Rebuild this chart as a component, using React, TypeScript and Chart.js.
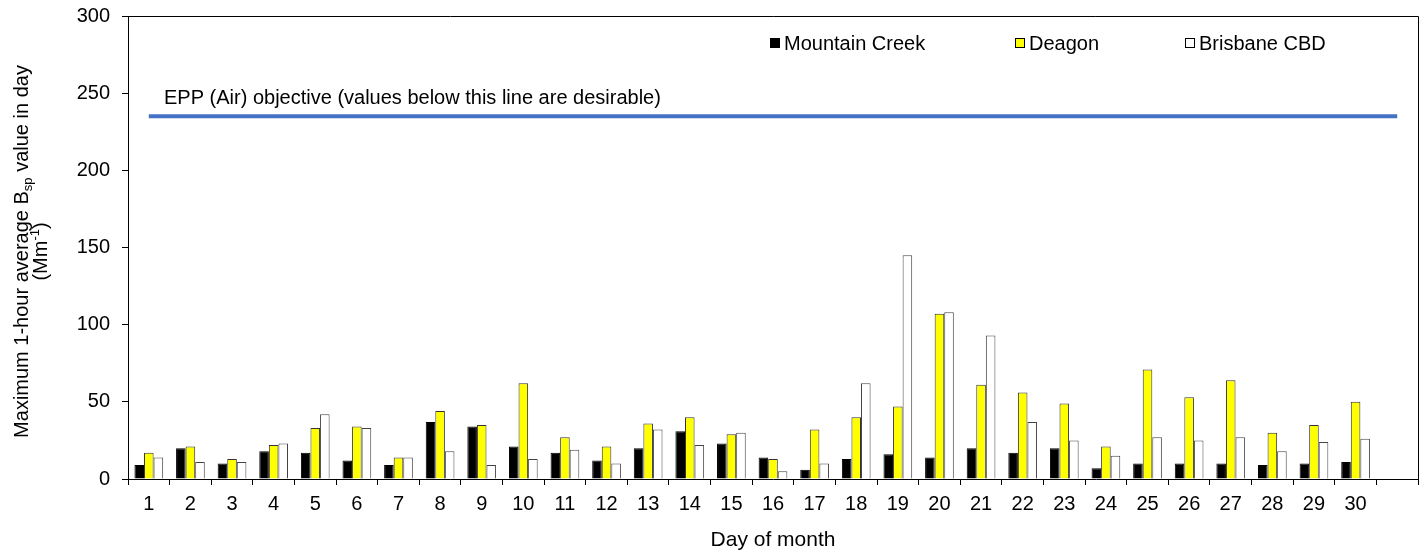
import React, { useEffect, useRef } from "react";
import { Chart, registerables } from "chart.js";

Chart.register(...registerables);

const days: string[] = [
  "1","2","3","4","5","6","7","8","9","10","11","12","13","14","15",
  "16","17","18","19","20","21","22","23","24","25","26","27","28","29","30","",
];

const mountainCreek: (number | null)[] = [
  9, 20, 10, 18, 17, 12, 9, 37, 34, 21, 17, 12, 20, 31, 23,
  14, 6, 13, 16, 14, 20, 17, 20, 7, 10, 10, 10, 9, 10, 11, null,
];

const deagon: (number | null)[] = [
  17, 21, 13, 22, 33, 34, 14, 44, 35, 62, 27, 21, 36, 40, 29,
  13, 32, 40, 47, 107, 61, 56, 49, 21, 71, 53, 64, 30, 35, 50, null,
];

const brisbaneCBD: (number | null)[] = [
  14, 11, 11, 23, 42, 33, 14, 18, 9, 13, 19, 10, 32, 22, 30,
  5, 10, 62, 145, 108, 93, 37, 25, 15, 27, 25, 27, 18, 24, 26, null,
];

const eppObjective = 235;
const eppLabel = "EPP (Air) objective (values below this line are desirable)";

const yTicks = [0, 50, 100, 150, 200, 250, 300];

const FONT = "'Liberation Sans', Arial, sans-serif";

const overlayPlugin = {
  id: "overlay",
  afterDraw(chart: any) {
    const { ctx, chartArea } = chart;
    const ys = chart.scales.y;
    ctx.save();
    // box top & right
    ctx.strokeStyle = "#000";
    ctx.lineWidth = 1;
    ctx.beginPath();
    ctx.moveTo(chartArea.left, chartArea.top + 0.5);
    ctx.lineTo(chartArea.right + 0.5, chartArea.top + 0.5);
    ctx.lineTo(chartArea.right + 0.5, chartArea.bottom);
    ctx.stroke();

    // EPP label
    ctx.fillStyle = "#000";
    ctx.font = `20px ${FONT}`;
    ctx.textBaseline = "alphabetic";
    ctx.textAlign = "left";
    ctx.fillText(eppLabel, 164, ys.getPixelForValue(eppObjective) - 12);

    // legend
    const items = [
      { label: "Mountain Creek", fill: "#000000", x: 770 },
      { label: "Deagon", fill: "#FFFF00", x: 1015 },
      { label: "Brisbane CBD", fill: "#FFFFFF", x: 1185 },
    ];
    const ly = 43;
    items.forEach((it) => {
      ctx.fillStyle = it.fill;
      ctx.fillRect(it.x, ly - 5, 10, 10);
      ctx.strokeStyle = "#000";
      ctx.lineWidth = 1;
      ctx.strokeRect(it.x + 0.5, ly - 4.5, 9, 9);
      ctx.fillStyle = "#000";
      ctx.textBaseline = "middle";
      ctx.fillText(it.label, it.x + 14, ly + 1);
    });

    // y axis title (rotated, two lines)
    const cy = (chartArea.top + chartArea.bottom) / 2 + 4;
    const drawRich = (parts: { t: string; size: number; dy: number }[], cx: number) => {
      let total = 0;
      parts.forEach((p) => {
        ctx.font = `${p.size}px ${FONT}`;
        total += ctx.measureText(p.t).width;
      });
      ctx.save();
      ctx.translate(cx, cy);
      ctx.rotate(-Math.PI / 2);
      ctx.textBaseline = "middle";
      ctx.textAlign = "left";
      ctx.fillStyle = "#000";
      let x = -total / 2;
      parts.forEach((p) => {
        ctx.font = `${p.size}px ${FONT}`;
        ctx.fillText(p.t, x, p.dy);
        x += ctx.measureText(p.t).width;
      });
      ctx.restore();
    };
    drawRich(
      [
        { t: "Maximum 1-hour average B", size: 20, dy: 0 },
        { t: "sp", size: 13, dy: 6 },
        { t: " value in day", size: 20, dy: 0 },
      ],
      22
    );
    drawRich(
      [
        { t: "(Mm", size: 20, dy: 0 },
        { t: "-1", size: 13, dy: -6 },
        { t: ")", size: 20, dy: 0 },
      ],
      41
    );
    ctx.restore();
  },
};

export default function App() {
  const ref = useRef<HTMLCanvasElement | null>(null);
  useEffect(() => {
    if (!ref.current) return;
    const chart = new Chart(ref.current, {
      type: "bar",
      data: {
        labels: days,
        datasets: [
          {
            type: "line",
            label: "EPP (Air) objective",
            data: days.map(() => eppObjective),
            borderColor: "#4472C4",
            borderWidth: 4,
            pointRadius: 0,
            fill: false,
            order: 0,
          } as any,
          {
            label: "Mountain Creek",
            data: mountainCreek,
            backgroundColor: "#000000",
            borderColor: "#000000",
            borderWidth: 1,
            order: 1,
          },
          {
            label: "Deagon",
            data: deagon,
            backgroundColor: "#FFFF00",
            borderColor: "#333333",
            borderWidth: 1,
            order: 1,
          },
          {
            label: "Brisbane CBD",
            data: brisbaneCBD,
            backgroundColor: "#FFFFFF",
            borderColor: "#444444",
            borderWidth: 1,
            order: 1,
          },
        ],
      },
      options: {
        animation: false,
        responsive: true,
        maintainAspectRatio: false,
        datasets: {
          bar: { barPercentage: 1, categoryPercentage: 0.69 },
        },
        layout: { padding: { top: 16, right: 10, left: 0, bottom: 0 } },
        plugins: {
          legend: { display: false },
          tooltip: { enabled: false },
          title: { display: false },
        },
        scales: {
          x: {
            offset: true,
            grid: {
              offset: true,
              drawOnChartArea: false,
              drawTicks: true,
              tickLength: 6,
              color: "#000",
            },
            border: { display: true, color: "#000", width: 1 },
            ticks: {
              color: "#000",
              font: { family: FONT, size: 20 },
              padding: 7,
              maxRotation: 0,
              autoSkip: false,
            },
            title: {
              display: true,
              text: "Day of month",
              color: "#000",
              font: { family: FONT, size: 21 },
              padding: { top: 0, bottom: 0 },
            },
            afterFit: (s: any) => {
              s.height = 74;
              s.paddingLeft = 0;
              s.paddingRight = 0;
            },
          },
          y: {
            min: 0,
            max: 300,
            afterBuildTicks: (s: any) => {
              s.ticks = yTicks.map((v) => ({ value: v }));
            },
            grid: {
              drawOnChartArea: false,
              drawTicks: true,
              tickLength: 6,
              color: "#000",
            },
            border: { display: true, color: "#000", width: 1 },
            ticks: {
              color: "#000",
              font: { family: FONT, size: 20 },
              padding: 12,
            },
            afterFit: (s: any) => {
              s.width = 128;
              s.paddingTop = 0;
              s.paddingBottom = 0;
            },
          },
        },
      },
      plugins: [overlayPlugin],
    });
    return () => chart.destroy();
  }, []);
  return (
    <div style={{ position: "fixed", left: 0, top: 0, width: 1428, height: 553, background: "#fff" }}>
      <canvas ref={ref} />
    </div>
  );
}
